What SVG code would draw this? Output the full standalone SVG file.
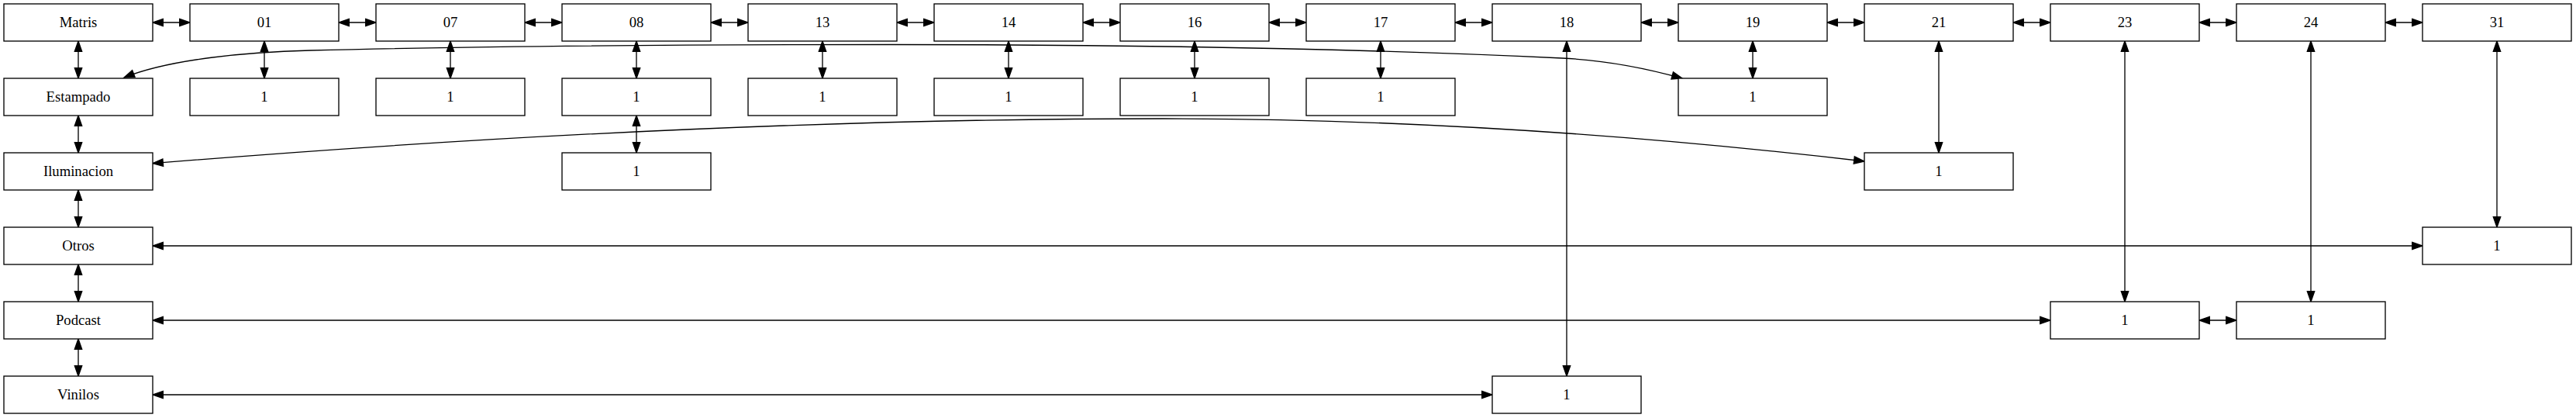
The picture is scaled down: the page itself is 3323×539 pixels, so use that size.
<svg xmlns="http://www.w3.org/2000/svg" width="3323" height="539" viewBox="0 0 3323 539">
<style>
.n rect{fill:#fff;stroke:#000;stroke-width:1.33}
.n text{font-family:"Liberation Serif","Times New Roman",serif;font-size:18.67px;text-anchor:middle;fill:#000}
.e path{fill:none;stroke:#000;stroke-width:1.33;marker-start:url(#ah);marker-end:url(#ah)}
</style>
<defs>
<marker id="ah" markerUnits="userSpaceOnUse" viewBox="-2 -7 18 14" markerWidth="18" markerHeight="14" refX="13.3" refY="0" orient="auto-start-reverse" overflow="visible">
<path d="M0,-4.67 L13.3,0 L0,4.67 Z" fill="#000" stroke="#000" stroke-width="1.33"/>
</marker>
</defs>
<rect width="3323" height="539" fill="#fff"/>
<g class="e" id="connectors">
<path d="M197,29 H245"/>
<path d="M437,29 H485"/>
<path d="M677,29 H725"/>
<path d="M917,29 H965"/>
<path d="M1157,29 H1205"/>
<path d="M1397,29 H1445"/>
<path d="M1637,29 H1685"/>
<path d="M1877,29 H1925"/>
<path d="M2117,29 H2165"/>
<path d="M2357,29 H2405"/>
<path d="M2597,29 H2645"/>
<path d="M2837,29 H2885"/>
<path d="M3077,29 H3125"/>
<path d="M101,53 V101"/>
<path d="M101,149 V197"/>
<path d="M101,245 V293"/>
<path d="M101,341 V389"/>
<path d="M101,437 V485"/>
<path d="M341,53 V101"/>
<path d="M581,53 V101"/>
<path d="M821,53 V101"/>
<path d="M821,149 V197"/>
<path d="M1061,53 V101"/>
<path d="M1301,53 V101"/>
<path d="M1541,53 V101"/>
<path d="M1781,53 V101"/>
<path d="M2261,53 V101"/>
<path d="M2021,53 V485"/>
<path d="M2501,53 V197"/>
<path d="M2741,53 V389"/>
<path d="M2981,53 V389"/>
<path d="M3221,53 V293"/>
<path d="M197,317 H3125"/>
<path d="M197,413 H2645"/>
<path d="M2837,413 H2885"/>
<path d="M197,509 H1925"/>
<path d="M160,100 C220,76 320,67 400,65 C650,58.75 900,57.5 1150,57.5 C1440,57.5 1725,61.1 2015,75 C2065,77.4 2120,87 2170,101"/>
<path d="M197,210.7 C631,175.1 1066,153 1500,153 C1800,153 2105,172.9 2405,208"/>
</g>
<g class="n" id="n-matris"><rect x="5" y="5" width="192" height="48"/><text x="101" y="35">Matris</text></g>
<g class="n" id="n-01"><rect x="245" y="5" width="192" height="48"/><text x="341" y="35">01</text></g>
<g class="n" id="n-07"><rect x="485" y="5" width="192" height="48"/><text x="581" y="35">07</text></g>
<g class="n" id="n-08"><rect x="725" y="5" width="192" height="48"/><text x="821" y="35">08</text></g>
<g class="n" id="n-13"><rect x="965" y="5" width="192" height="48"/><text x="1061" y="35">13</text></g>
<g class="n" id="n-14"><rect x="1205" y="5" width="192" height="48"/><text x="1301" y="35">14</text></g>
<g class="n" id="n-16"><rect x="1445" y="5" width="192" height="48"/><text x="1541" y="35">16</text></g>
<g class="n" id="n-17"><rect x="1685" y="5" width="192" height="48"/><text x="1781" y="35">17</text></g>
<g class="n" id="n-18"><rect x="1925" y="5" width="192" height="48"/><text x="2021" y="35">18</text></g>
<g class="n" id="n-19"><rect x="2165" y="5" width="192" height="48"/><text x="2261" y="35">19</text></g>
<g class="n" id="n-21"><rect x="2405" y="5" width="192" height="48"/><text x="2501" y="35">21</text></g>
<g class="n" id="n-23"><rect x="2645" y="5" width="192" height="48"/><text x="2741" y="35">23</text></g>
<g class="n" id="n-24"><rect x="2885" y="5" width="192" height="48"/><text x="2981" y="35">24</text></g>
<g class="n" id="n-31"><rect x="3125" y="5" width="192" height="48"/><text x="3221" y="35">31</text></g>
<g class="n" id="n-estampado"><rect x="5" y="101" width="192" height="48"/><text x="101" y="131">Estampado</text></g>
<g class="n" id="n-01-1"><rect x="245" y="101" width="192" height="48"/><text x="341" y="131">1</text></g>
<g class="n" id="n-07-1"><rect x="485" y="101" width="192" height="48"/><text x="581" y="131">1</text></g>
<g class="n" id="n-08-1"><rect x="725" y="101" width="192" height="48"/><text x="821" y="131">1</text></g>
<g class="n" id="n-13-1"><rect x="965" y="101" width="192" height="48"/><text x="1061" y="131">1</text></g>
<g class="n" id="n-14-1"><rect x="1205" y="101" width="192" height="48"/><text x="1301" y="131">1</text></g>
<g class="n" id="n-16-1"><rect x="1445" y="101" width="192" height="48"/><text x="1541" y="131">1</text></g>
<g class="n" id="n-17-1"><rect x="1685" y="101" width="192" height="48"/><text x="1781" y="131">1</text></g>
<g class="n" id="n-19-1"><rect x="2165" y="101" width="192" height="48"/><text x="2261" y="131">1</text></g>
<g class="n" id="n-iluminacion"><rect x="5" y="197" width="192" height="48"/><text x="101" y="227">Iluminacion</text></g>
<g class="n" id="n-08-2"><rect x="725" y="197" width="192" height="48"/><text x="821" y="227">1</text></g>
<g class="n" id="n-21-1"><rect x="2405" y="197" width="192" height="48"/><text x="2501" y="227">1</text></g>
<g class="n" id="n-otros"><rect x="5" y="293" width="192" height="48"/><text x="101" y="323">Otros</text></g>
<g class="n" id="n-31-1"><rect x="3125" y="293" width="192" height="48"/><text x="3221" y="323">1</text></g>
<g class="n" id="n-podcast"><rect x="5" y="389" width="192" height="48"/><text x="101" y="419">Podcast</text></g>
<g class="n" id="n-23-1"><rect x="2645" y="389" width="192" height="48"/><text x="2741" y="419">1</text></g>
<g class="n" id="n-24-1"><rect x="2885" y="389" width="192" height="48"/><text x="2981" y="419">1</text></g>
<g class="n" id="n-vinilos"><rect x="5" y="485" width="192" height="48"/><text x="101" y="515">Vinilos</text></g>
<g class="n" id="n-18-1"><rect x="1925" y="485" width="192" height="48"/><text x="2021" y="515">1</text></g>
</svg>
